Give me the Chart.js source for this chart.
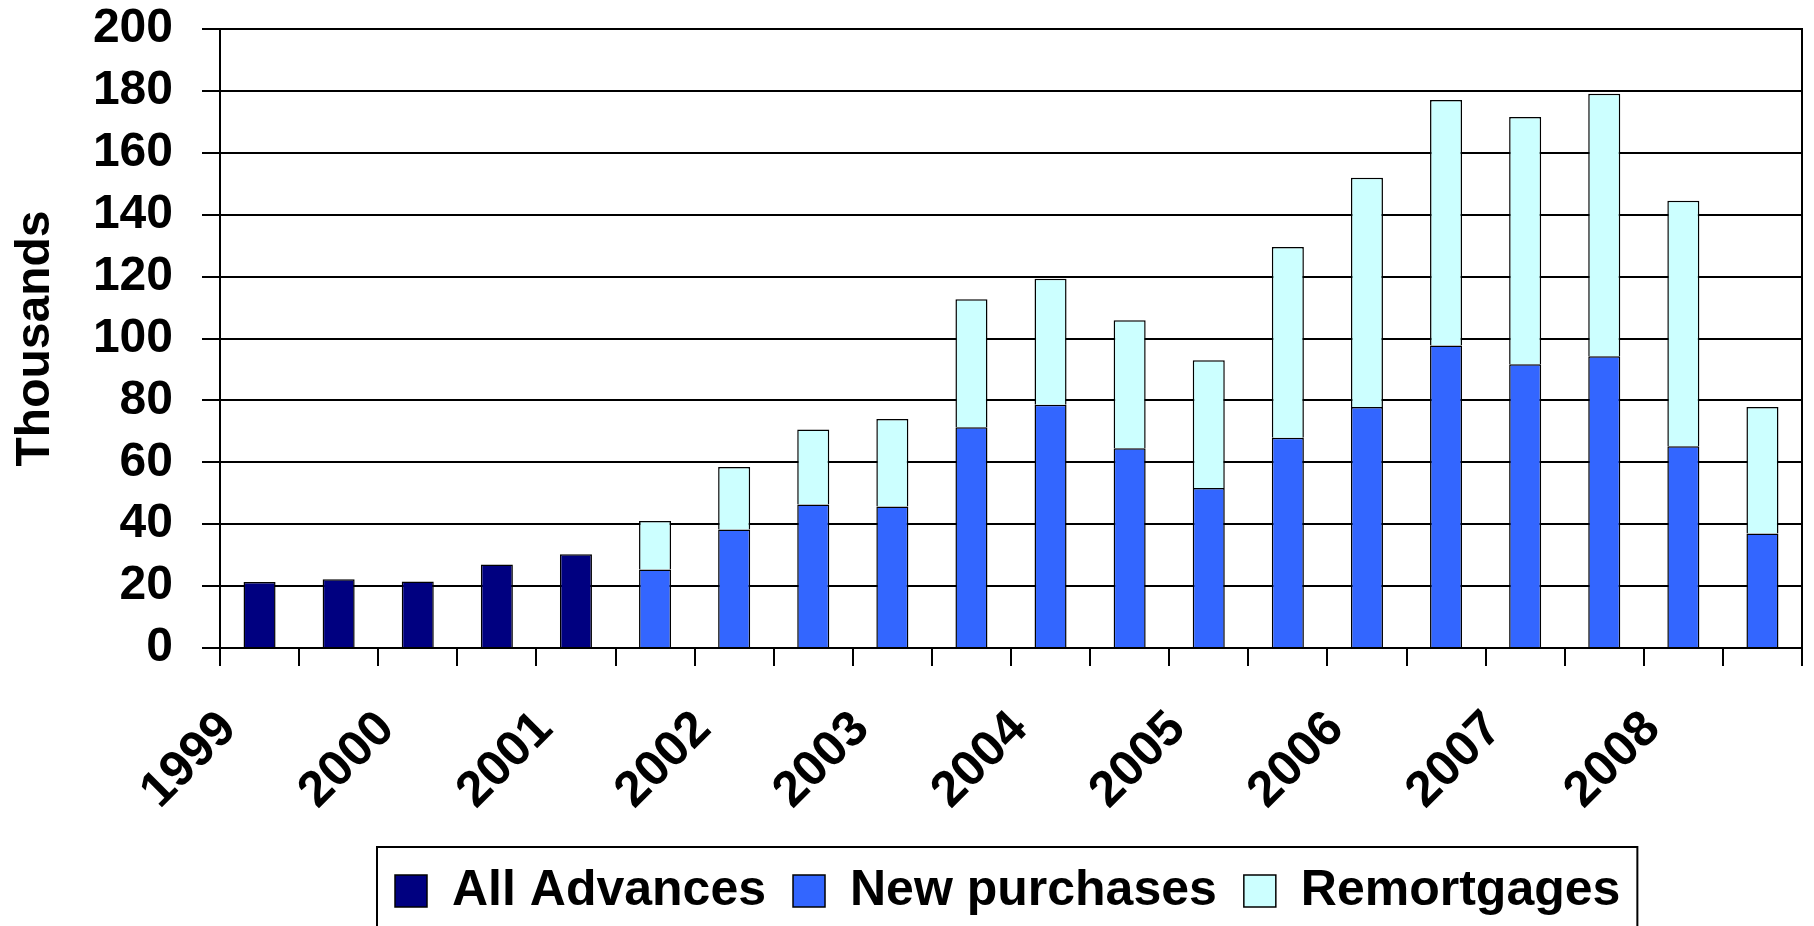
<!DOCTYPE html>
<html>
<head>
<meta charset="utf-8">
<script src="https://cdn.jsdelivr.net/npm/chart.js@4/dist/chart.umd.min.js"></script>
<style>
  html, body { margin: 0; padding: 0; background: #fff; }
  #wrap { width: 1814px; height: 926px; position: relative; }
</style>
</head>
<body>
<div id="wrap"><canvas id="c" width="1814" height="926"></canvas></div>
<script>
// ---- data ----
const categories = ['1999','', '2000','', '2001','', '2002','', '2003','', '2004','', '2005','', '2006','', '2007','', '2008',''];
const allAdvances = [21.3, 22.2, 21.5, 27.0, 30.3, null, null, null, null, null, null, null, null, null, null, null, null, null, null, null];
const newPurchases = [null, null, null, null, null, 25.4, 38.3, 46.4, 45.7, 71.3, 78.6, 64.5, 51.7, 67.9, 77.9, 97.7, 91.7, 94.3, 65.2, 37.0];
const remortgages = [null, null, null, null, null, 15.6, 20.2, 24.2, 28.3, 41.4, 40.7, 41.4, 41.3, 61.7, 74.0, 79.4, 79.9, 84.8, 79.3, 40.9];
const yTicks = [0, 20, 40, 60, 80, 100, 120, 140, 160, 180, 200];
const seriesNames = ['All Advances', 'New purchases', 'Remortgages'];
const seriesColors = ['#000080', '#3366FF', '#CCFFFF'];

const FONT = '"Liberation Sans", Arial, sans-serif';

const legendPlugin = {
  id: 'legendFrame',
  afterLayout(chart) {
    const lg = chart.legend;
    if (!lg || !lg.lineWidths) return;
    const pad = lg.options.labels.padding;
    const x0 = (lg.left + pad + lg.right - lg.lineWidths[0]) / 2;
    const dx = 395 - x0;
    lg.left += dx; lg.right += dx;
  },
  afterDraw(chart) {
    const lg = chart.legend;
    if (!lg || !lg.legendHitBoxes || !lg.legendHitBoxes.length) return;
    const hb = lg.legendHitBoxes;
    const l = hb[0].left - 18;
    const r = hb[hb.length - 1].left + hb[hb.length - 1].width + 17;
    const t = hb[0].top - 19;
    const ctx = chart.ctx;
    ctx.save();
    ctx.strokeStyle = '#000';
    ctx.lineWidth = 2;
    ctx.strokeRect(l, t, r - l, 200);
    ctx.restore();
  }
};

new Chart(document.getElementById('c'), {
  type: 'bar',
  data: {
    labels: categories,
    datasets: [
      { label: seriesNames[0], data: allAdvances, backgroundColor: seriesColors[0] },
      { label: seriesNames[1], data: newPurchases, backgroundColor: seriesColors[1] },
      { label: seriesNames[2], data: remortgages, backgroundColor: seriesColors[2] }
    ].map(d => Object.assign(d, { borderColor: '#000', borderWidth: 1.5, barPercentage: 0.405, categoryPercentage: 1.0 }))
  },
  options: {
    responsive: false,
    animation: false,
    devicePixelRatio: 1,
    layout: { padding: { left: 0, right: 12, top: 0, bottom: 0 } },
    plugins: {
      tooltip: { enabled: false },
      title: { display: false },
      legend: {
        display: true,
        position: 'bottom',
        labels: {
          color: '#000',
          font: { family: FONT, size: 50, weight: 'bold' },
          boxWidth: 32,
          boxHeight: 32,
          padding: 27
        }
      }
    },
    scales: {
      x: {
        stacked: true,
        offset: true,
        grid: { display: true, drawOnChartArea: false, drawTicks: true, tickLength: 18, color: '#000', lineWidth: 2, offset: true },
        border: { display: true, color: '#000', width: 2 },
        ticks: {
          autoSkip: false,
          maxRotation: 45,
          minRotation: 45,
          padding: 34,
          labelOffset: -31,
          color: '#000',
          font: { family: FONT, size: 50, weight: 'bold' }
        },
        afterFit(s) { s.height = 191; s.paddingLeft = 0; s.paddingRight = 0; }
      },
      y: {
        stacked: true,
        min: 0,
        max: 200,
        afterBuildTicks(s) { s.ticks = yTicks.map(v => ({ value: v })); },
        grid: { display: true, color: '#000', lineWidth: 2, tickLength: 18, drawTicks: true },
        border: { display: true, color: '#000', width: 2 },
        ticks: {
          autoSkip: false,
          stepSize: 20,
          padding: 29,
          color: '#000',
          font: { family: FONT, size: 48, weight: 'bold' }
        },
        title: {
          display: true,
          text: 'Thousands',
          color: '#000',
          font: { family: FONT, size: 48, weight: 'bold' },
          padding: { top: 7, bottom: 0 }
        },
        afterFit(s) { s.width = 220; s.paddingTop = 29; s.paddingBottom = 0; }
      },
      y2: {
        position: 'right',
        min: 0,
        max: 200,
        grid: { display: false, drawOnChartArea: false, drawTicks: false },
        border: { display: true, color: '#000', width: 2 },
        ticks: { display: false },
        afterFit(s) { s.width = 0; s.paddingTop = 0; s.paddingBottom = 0; }
      }
    }
  },
  plugins: [legendPlugin]
});
</script>
</body>
</html>
